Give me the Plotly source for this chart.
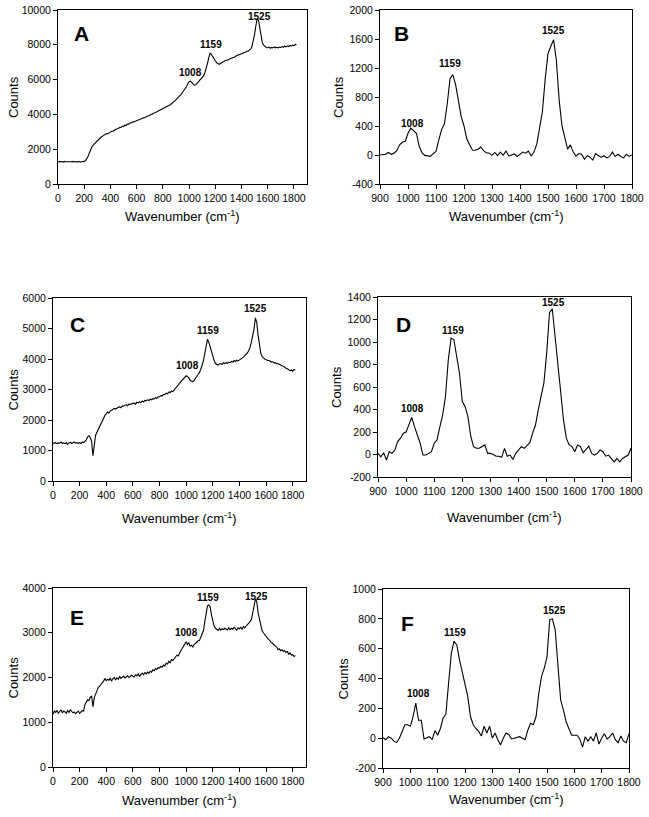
import plotly.graph_objects as go

W, H = 649, 817

# ---------------- data ----------------
full_x = list(range(0, 1830, 10))      # 0..1820
zoom_x = list(range(900, 1810, 10))    # 900..1800

spec_A = [
    1280, 1300, 1270, 1290, 1260, 1300, 1280, 1270, 1290, 1260,
    1280, 1300, 1270, 1290, 1280, 1260, 1300, 1250, 1280, 1270,
    1300, 1350, 1450, 1600, 1800, 2000, 2150, 2250, 2330, 2400,
    2500, 2580, 2640, 2700, 2750, 2800, 2830, 2900, 2890, 2950,
    2980, 3030, 3040, 3100, 3110, 3170, 3190, 3250, 3250, 3310,
    3310, 3380, 3370, 3440, 3440, 3510, 3510, 3570, 3570, 3620,
    3630, 3680, 3690, 3740, 3750, 3800, 3810, 3860, 3880, 3920,
    3940, 4010, 4010, 4080, 4090, 4130, 4170, 4210, 4230, 4290,
    4300, 4370, 4380, 4460, 4470, 4540, 4570, 4640, 4690, 4780,
    4830, 4920, 4990, 5100, 5150, 5270, 5370, 5500, 5590, 5760,
    5880, 5910, 5820, 5730, 5680, 5700, 5760, 5850, 5950, 6020,
    6100, 6200, 6380, 6600, 6900, 7250, 7520, 7450, 7300, 7200,
    7080, 6980, 6920, 6880, 6920, 6970, 7030, 7050, 7110, 7110,
    7170, 7190, 7230, 7250, 7310, 7300, 7370, 7390, 7430, 7440,
    7490, 7510, 7560, 7570, 7630, 7630, 7690, 7750, 7900, 8200,
    8600, 9100, 9500, 9400, 8900, 8400, 8100, 7980, 7900, 7850,
    7830, 7870, 7800, 7850, 7820, 7880, 7830, 7860, 7820, 7870,
    7850, 7900, 7860, 7920, 7880, 7940, 7900, 7960, 7920, 7980,
    7950, 8020, 8000,
]

spec_C = [
    1250, 1230, 1260, 1220, 1250, 1240, 1280, 1230, 1250, 1220,
    1260, 1200, 1250, 1270, 1230, 1250, 1280, 1240, 1260, 1230,
    1260, 1230, 1280, 1260, 1300, 1350, 1450, 1480, 1420, 1300,
    830, 1100, 1500, 1600, 1700, 1780, 1900, 1980, 2100, 2150,
    2200, 2260, 2230, 2300, 2320, 2340, 2380, 2360, 2400, 2420,
    2430, 2400, 2460, 2450, 2480, 2500, 2470, 2520, 2510, 2540,
    2530, 2560, 2520, 2580, 2560, 2600, 2570, 2620, 2590, 2640,
    2630, 2660, 2640, 2680, 2660, 2700, 2690, 2730, 2710, 2760,
    2760, 2800, 2790, 2840, 2830, 2880, 2860, 2920, 2900, 2950,
    2930, 2980, 3020, 3100, 3150, 3200, 3260, 3300, 3350, 3400,
    3450, 3420, 3380, 3300, 3280, 3250, 3300, 3380, 3450, 3500,
    3550, 3650, 3800, 3950, 4200, 4500, 4650, 4550, 4400, 4200,
    4050, 3950, 3850, 3820, 3800, 3840, 3850, 3820, 3880, 3850,
    3880, 3860, 3900, 3880, 3920, 3900, 3950, 3920, 3960, 3940,
    3980, 4000, 4030, 4060, 4100, 4150, 4200, 4280, 4380, 4550,
    4750, 5000, 5350, 5200, 4800, 4450, 4200, 4080, 4020, 4000,
    3980, 3950, 3960, 3920, 3900, 3910, 3870, 3880, 3840, 3850,
    3820, 3800, 3780, 3760, 3720, 3700, 3680, 3650, 3620, 3640,
    3600, 3660, 3640,
]

spec_E = [
    1180, 1250, 1220, 1260, 1200, 1240, 1280, 1210, 1250, 1230,
    1200, 1260, 1220, 1280, 1250, 1210, 1230, 1190, 1220, 1250,
    1200, 1230, 1260, 1250, 1400, 1450, 1500, 1480, 1560, 1580,
    1350, 1550, 1650, 1700, 1780, 1800, 1850, 1880, 1920, 1980,
    1930, 1960, 1940, 1980, 1920, 1970, 2000, 1950, 1990, 1960,
    2020, 1980, 2000, 2030, 1990, 2010, 2040, 2000, 2020, 2050,
    2030, 2010, 2060, 2040, 2080, 2020, 2070, 2100, 2060, 2110,
    2080, 2120, 2090, 2140, 2120, 2170, 2150, 2200, 2180, 2220,
    2210, 2250, 2230, 2280, 2260, 2320, 2300, 2360, 2330, 2400,
    2380, 2420, 2450, 2500, 2480, 2560, 2600, 2650, 2700, 2720,
    2800, 2740, 2780, 2700, 2720, 2680, 2740, 2760, 2800, 2820,
    2830, 2900, 2960, 3050, 3250, 3450, 3600, 3620, 3580, 3400,
    3250, 3150, 3100, 3080, 3050, 3100, 3060, 3090, 3070, 3100,
    3080, 3060, 3110, 3070, 3100, 3080, 3120, 3090, 3060, 3110,
    3090, 3120, 3080, 3140, 3110, 3150, 3180, 3200, 3250, 3300,
    3420, 3600, 3750, 3700, 3450, 3300, 3150, 3050, 3000, 2950,
    2920, 2880, 2850, 2800, 2780, 2760, 2720, 2700, 2680, 2620,
    2640, 2600, 2620, 2580, 2600, 2560, 2580, 2520, 2550, 2500,
    2510, 2470, 2490,
]

spec_B = [
    0, 0, 10, 35, 10, 25, 60, 140, 175, 190,
    300, 370, 340, 300, 120, 30, -5, -10, -18, 20,
    50, 210, 350, 430, 700, 1050, 1110, 970, 720, 530,
    400, 220, 140, 70, 65, 80, 110, 60, 30, 25,
    -5, 35, -10, 40, -5, 55, -15, 0, 15, -20,
    10, 40, 25, 55, -10, 40, 150, 350, 600, 1050,
    1400, 1500, 1590, 1300, 750, 400, 230, 80, 140, 40,
    -15, 20, 10, -60, -10, -30, -70, 20, -10, -30,
    -10, -40, -20, 40, -20, 10, -20, -40, 10, -20,
    0,
]

spec_D = [
    10, -20, 15, -50, 25, 10, 40, 115, 145, 190,
    200, 275, 330, 245, 170, 100, -5, -5, 10, 25,
    100, 130, 245, 350, 515, 840, 1035, 1020, 870, 720,
    470, 425, 335, 160, 70, 55, 55, 70, 85, 10,
    10, 0, -15, -15, -25, 55, -15, -5, -45, 10,
    40, 70, 55, 85, 105, 190, 260, 395, 515, 635,
    900, 1260, 1295, 1050, 750, 515, 305, 145, 85, 70,
    25, 85, 70, 15, 45, 75, 10, -5, 10, 40,
    25, -15, -5, -35, -65, -35, -65, -35, -20, -5,
    55,
]

spec_F = [
    5, -10, 10, 0, -20, -30, 0, 45, 90, 90,
    80, 145, 235, 120, 120, -5, 0, 10, -10, 50,
    20, 65, 135, 160, 370, 570, 650, 625, 525, 445,
    345, 280, 145, 90, 65, 45, 15, 80, 35, 80,
    0, 35, -10, -45, 0, 35, 25, -5, 0, 5,
    10, 0, -10, 55, 100, 90, 145, 300, 415, 470,
    545, 795, 800, 725, 460, 255, 190, 110, 65, 20,
    20, 20, -5, -60, 10, -20, 10, -20, 35, -40,
    0, 30, -5, 10, 35, -10, -30, 15, -20, -30,
    30,
]

peak_labels = ["1008", "1159", "1525"]
panel_letters = ["A", "B", "C", "D", "E", "F"]

full_ticks = [0, 200, 400, 600, 800, 1000, 1200, 1400, 1600, 1800]
zoom_ticks = [900, 1000, 1100, 1200, 1300, 1400, 1500, 1600, 1700, 1800]

panels = [
    dict(x=full_x, y=spec_A, px=(58, 307, 10, 184), xr=[0, 1900], yr=[0, 10000], yd=2000,
         xt=full_ticks, lab=[(1011, 6400), (1170, 7990), (1536, 9620)], let=(81, 34)),
    dict(x=zoom_x, y=spec_B, px=(380, 632, 10, 184), xr=[900, 1800], yr=[-400, 2000], yd=400,
         xt=zoom_ticks, lab=[(1016, 428), (1150, 1260), (1520, 1720)], let=(401, 34)),
    dict(x=full_x, y=spec_C, px=(53, 306, 298, 481), xr=[0, 1900], yr=[0, 6000], yd=1000,
         xt=full_ticks, lab=[(1008, 3773), (1164, 4925), (1520, 5650)], let=(77, 324)),
    dict(x=zoom_x, y=spec_D, px=(378, 631, 297, 477), xr=[900, 1800], yr=[-200, 1400], yd=200,
         xt=zoom_ticks, lab=[(1022, 410), (1166, 1100), (1526, 1347)], let=(403, 325)),
    dict(x=full_x, y=spec_E, px=(53, 306, 588, 767), xr=[0, 1900], yr=[0, 4000], yd=1000,
         xt=full_ticks, lab=[(999, 3006), (1162, 3790), (1525, 3813)], let=(77, 617)),
    dict(x=zoom_x, y=spec_F, px=(383, 629, 589, 768), xr=[900, 1800], yr=[-200, 1000], yd=200,
         xt=zoom_ticks, lab=[(1029, 297), (1163, 708), (1528, 854)], let=(407, 623)),
]

xtitle_y = [216, 216, 518, 517, 800, 799]
ytitle_x = [13, 338, 13, 337, 13, 343]

FONT = "Liberation Sans, Arial, sans-serif"


def fx(px):
    return px / W


def fy(py):
    return 1 - py / H


fig = go.Figure()
layout = dict(
    template="none",
    width=W, height=H, margin=dict(l=0, r=0, t=0, b=0, pad=0, autoexpand=False),
    paper_bgcolor="white", plot_bgcolor="white", showlegend=False,
    font=dict(family=FONT, color="black", size=11),
)
annotations = []

for i, p in enumerate(panels):
    n = i + 1
    xa = "x" if n == 1 else f"x{n}"
    ya = "y" if n == 1 else f"y{n}"
    x0, x1, yt, yb = p["px"]
    fig.add_trace(go.Scatter(x=p["x"], y=p["y"], mode="lines",
                             line=dict(color="black", width=1.1),
                             xaxis=xa, yaxis=ya, hoverinfo="skip"))
    axcommon = dict(showgrid=False, zeroline=False, showline=True, linecolor="black",
                    linewidth=1, mirror=True, ticks="outside", ticklen=4,
                    tickcolor="black", tickwidth=1, tickangle=0, automargin=False,
                    ticklabeloverflow="allow",
                    tickfont=dict(family=FONT, size=10.5, color="black"))
    layout["xaxis" if n == 1 else f"xaxis{n}"] = dict(
        axcommon, domain=[fx(x0), fx(x1)], range=p["xr"], tickmode="array",
        tickvals=p["xt"], ticktext=[str(v) for v in p["xt"]], anchor=ya)
    yvals = list(range(p["yr"][0], p["yr"][1] + 1, p["yd"]))
    layout["yaxis" if n == 1 else f"yaxis{n}"] = dict(
        axcommon, domain=[fy(yb), fy(yt)], range=p["yr"], tickmode="array",
        tickvals=yvals, ticktext=[str(v) for v in yvals], anchor=xa)
    for txt, (lx, ly) in zip(peak_labels, p["lab"]):
        annotations.append(dict(x=lx, y=ly, xref=xa, yref=ya, text=f"<b>{txt}</b>",
                                xanchor="center", yanchor="middle",
                                showarrow=False, font=dict(family=FONT, size=10, color="black")))
    annotations.append(dict(x=fx(p["let"][0]), y=fy(p["let"][1]), xref="paper", yref="paper",
                            xanchor="center", yanchor="middle",
                            text=f"<b>{panel_letters[i]}</b>", showarrow=False,
                            font=dict(family=FONT, size=21, color="black")))
    annotations.append(dict(x=fx((x0 + x1) / 2), y=fy(xtitle_y[i]), xref="paper", yref="paper",
                            xanchor="center", yanchor="middle",
                            text="Wavenumber (cm<sup>-1</sup>)", showarrow=False,
                            font=dict(family=FONT, size=13, color="black")))
    annotations.append(dict(x=fx(ytitle_x[i]), y=fy((yt + yb) / 2),
                            xref="paper", yref="paper", text="Counts", textangle=-90,
                            xanchor="center", yanchor="middle",
                            showarrow=False, font=dict(family=FONT, size=13, color="black")))

layout["annotations"] = annotations
fig.update_layout(**layout)
# remove the default 8px page margin so the figure fills the window exactly
fig.write_html("out.html",
               config={"displayModeBar": False},
               post_script="document.body.style.margin='0px';document.body.style.overflow='hidden';")
